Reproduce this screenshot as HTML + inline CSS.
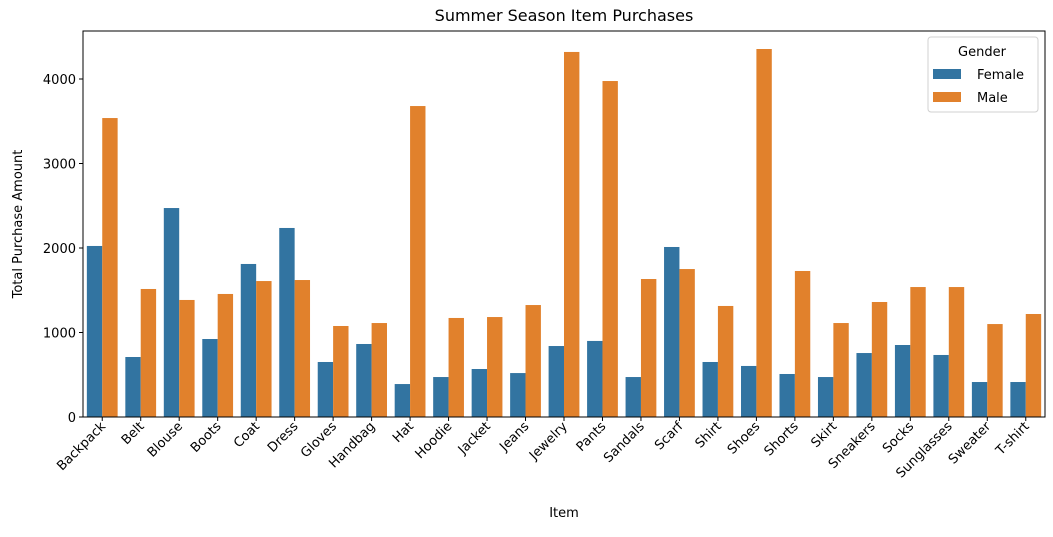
<!DOCTYPE html>
<html><head><meta charset="utf-8"><style>
body{margin:0;background:#fff;font-family:"Liberation Sans","DejaVu Sans",sans-serif}
</style></head><body>
<svg id="chart" width="1053" height="532" xmlns="http://www.w3.org/2000/svg" font-family="'DejaVu Sans','Liberation Sans',sans-serif">
<text x="564" y="21" text-anchor="middle" font-size="16">Summer Season Item Purchases</text>
<text x="564" y="517" text-anchor="middle" font-size="13">Item</text>
<text transform="translate(22,224) rotate(-90)" text-anchor="middle" font-size="13">Total Purchase Amount</text>
<g id="bars"></g><g id="yticks"></g><g id="xticks"></g>
<rect x="83" y="31" width="962" height="386" fill="none" stroke="#000" stroke-width="1"/>
<g>
<rect x="928" y="37" width="110" height="75" fill="#fff" stroke="#ccc" rx="3" opacity="0.9"/>
<text x="982" y="56" text-anchor="middle" font-size="13">Gender</text>
<g><rect x="933" y="69" width="28" height="10" fill="#3274a1"/><text x="977" y="79" font-size="13">Female</text></g>
<g><rect x="933" y="92" width="28" height="10" fill="#e1812c"/><text x="977" y="102" font-size="13">Male</text></g>
</g>
</svg>
<script>
const categories=["Backpack","Belt","Blouse","Boots","Coat","Dress","Gloves","Handbag","Hat","Hoodie","Jacket","Jeans","Jewelry","Pants","Sandals","Scarf","Shirt","Shoes","Shorts","Skirt","Sneakers","Socks","Sunglasses","Sweater","T-shirt"];
const femaleValues=[2024,710,2473,923,1811,2237,651,864,390,473,568,520,840,900,473,2012,651,604,509,473,757,852,734,414,414];
const maleValues=[3538,1515,1385,1456,1609,1621,1077,1112,3680,1172,1183,1325,4320,3976,1633,1751,1314,4355,1728,1112,1361,1538,1538,1100,1219];
const yTicks=[0,1000,2000,3000,4000];
const NS="http://www.w3.org/2000/svg";
const X0=83,X1=1045,Y0=417,yScale=v=>Y0-v*0.0845;
const band=(X1-X0)/categories.length;
const xCenter=i=>X0+band*(i+0.5);
function mk(t,a,p){const e=document.createElementNS(NS,t);for(const k in a)e.setAttribute(k,a[k]);p.appendChild(e);return e;}
const bars=document.getElementById('bars'),xt=document.getElementById('xticks'),yt=document.getElementById('yticks');
const bw=band*0.4;
categories.forEach((c,i)=>{
  const cx=xCenter(i);
  const f=mk('rect',{x:cx-bw,y:yScale(femaleValues[i]),width:bw,height:Y0-yScale(femaleValues[i]),fill:'#3274a1'},bars);
  
  
  const m=mk('rect',{x:cx,y:yScale(maleValues[i]),width:bw,height:Y0-yScale(maleValues[i]),fill:'#e1812c'},bars);
  
  
  mk('line',{x1:cx,x2:cx,y1:Y0,y2:Y0+4,stroke:'#000'},xt);
  const t=mk('text',{transform:`translate(${cx+4},${Y0+10}) rotate(-45)`,'text-anchor':'end','font-size':'13'},xt);
  t.textContent=c;
  
  
});
yTicks.forEach(v=>{
  const y=yScale(v);
  mk('line',{x1:X0-4,x2:X0,y1:y,y2:y,stroke:'#000'},yt);
  const t=mk('text',{x:X0-7,y:y+5,'text-anchor':'end','font-size':'13'},yt);
  t.textContent=v;
  
  
});
</script>
</body></html>
